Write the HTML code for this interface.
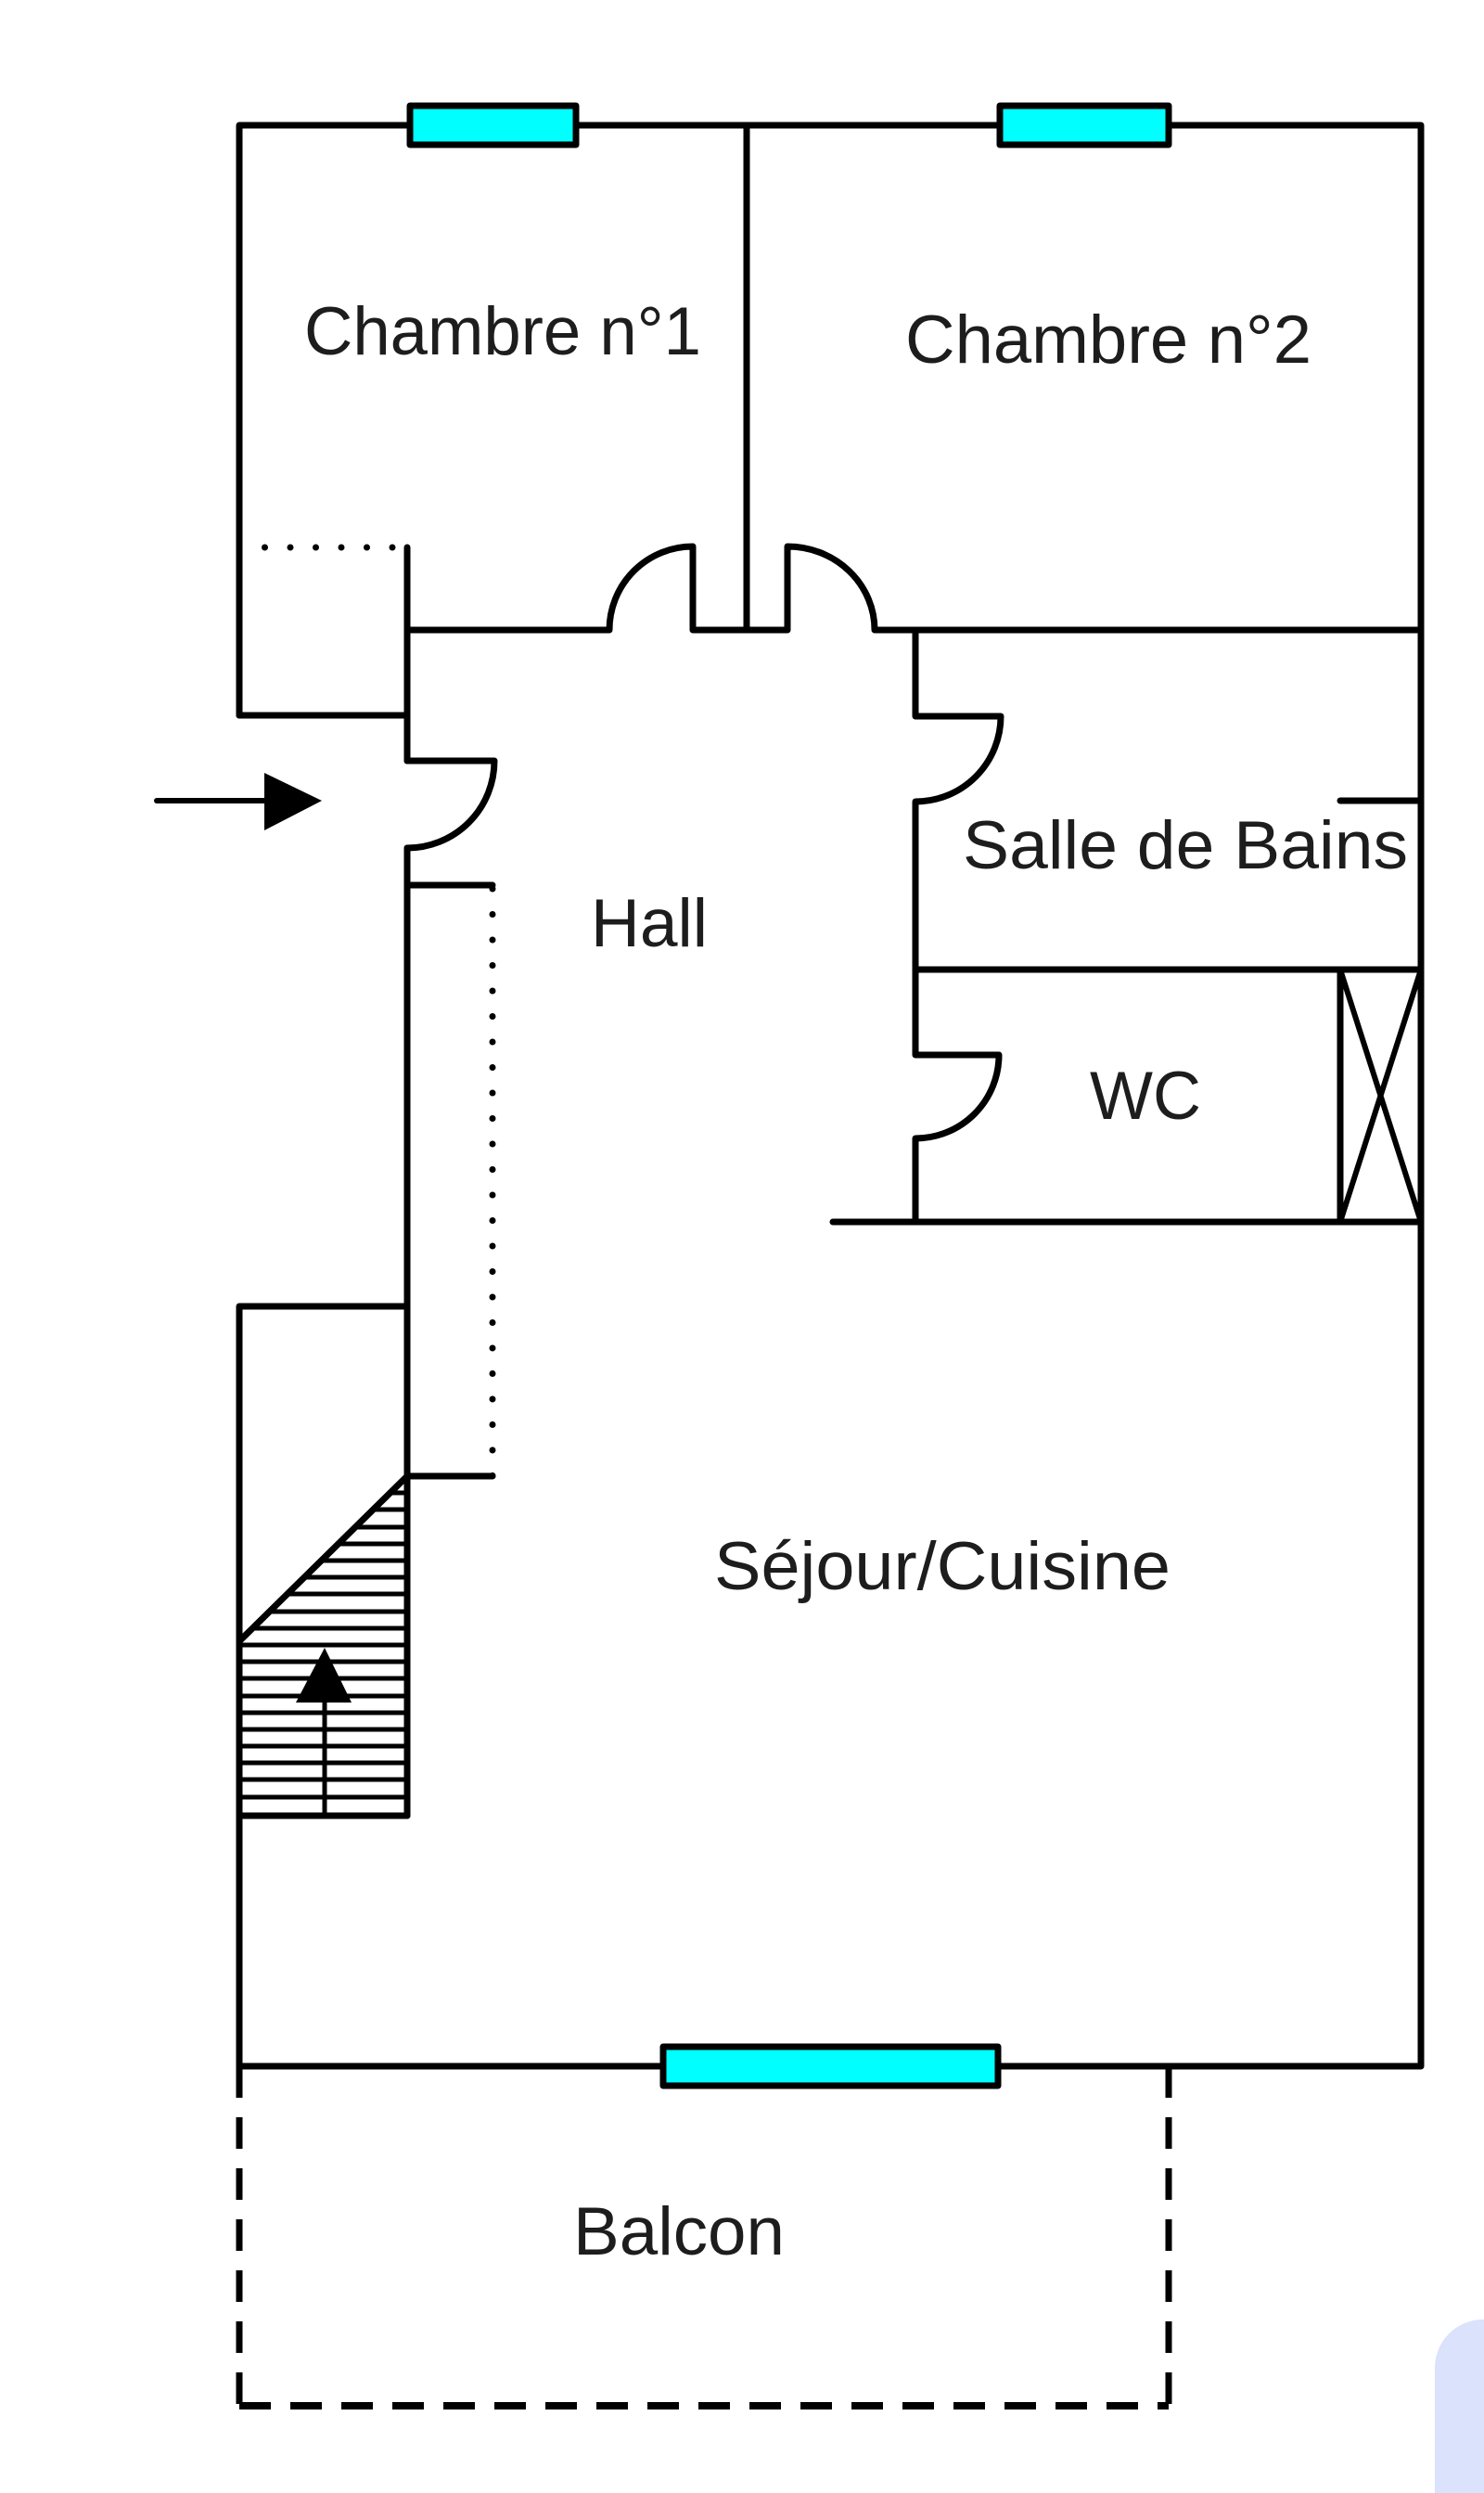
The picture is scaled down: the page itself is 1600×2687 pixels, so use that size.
<!DOCTYPE html>
<html>
<head>
<meta charset="utf-8">
<style>
  html, body { margin:0; padding:0; background:#fff; }
  body { width:1600px; height:2687px; overflow:hidden; position:relative; }
  svg { position:absolute; left:0; top:0; }
  text { font-family: "Liberation Sans", Arial, sans-serif; font-size:73px; fill:#1d1d1d; }
</style>
</head>
<body>
<svg width="1600" height="2687" viewBox="0 0 1600 2687" xmlns="http://www.w3.org/2000/svg">
  <!-- lavender blob bottom-right -->
  <rect x="1547" y="2500" width="140" height="260" rx="52" ry="52" fill="#dae2fc"/>

  <g fill="none" stroke="#000" stroke-width="7" stroke-linejoin="round" stroke-linecap="round">
    <!-- outer walls -->
    <path d="M258,771 V135 H1532 V2227 H258 V1408 H439"/>
    <path d="M258,771 H439"/>
    <!-- hall left wall -->
    <path d="M439,590 V820"/>
    <path d="M439,914 V1957"/>
    <path d="M258,1957 H439"/>
    <!-- hall top wall with two doors -->
    <path d="M439,679 H657 A90,90 0 0 1 747,589 V679 H849 V589 A94,90 0 0 1 943,679 H1532"/>
    <!-- middle wall between bedrooms -->
    <path d="M805,135 V679"/>
    <!-- bathroom / WC left wall with doors -->
    <path d="M987,679 V772 H1079 A92,92 0 0 1 987,864 V1137 H1077 A90,90 0 0 1 987,1227 V1317"/>
    <path d="M987,1045 H1532"/>
    <path d="M1445,863 H1532"/>
    <path d="M898,1317 H1532"/>
    <path d="M1445,1045 V1317"/>
    <path d="M1445,1045 L1532,1317 M1532,1045 L1445,1317" stroke-width="6"/>
    <!-- entrance door -->
    <path d="M439,820 H533 A94,94 0 0 1 439,914"/>
    <!-- cupboard along hall -->
    <path d="M439,954 H531"/>
    <path d="M439,1591 H531"/>
    <!-- stairs diagonal -->
    <path d="M439,1591 L259,1768"/>
  </g>

  <!-- dotted lines -->
  <g fill="none" stroke="#000" stroke-width="7" stroke-linecap="round" stroke-dasharray="0 27.5">
    <path d="M258,590 H439"/>
    <path d="M531,958 V1591"/>
  </g>

  <!-- stair hatching -->
  <g stroke="#000" stroke-width="5">
    <line x1="421" y1="1609" x2="439" y2="1609"/>
    <line x1="402" y1="1627" x2="439" y2="1627"/>
    <line x1="384" y1="1646" x2="439" y2="1646"/>
    <line x1="365" y1="1664" x2="439" y2="1664"/>
    <line x1="347" y1="1682" x2="439" y2="1682"/>
    <line x1="328" y1="1700" x2="439" y2="1700"/>
    <line x1="310" y1="1718" x2="439" y2="1718"/>
    <line x1="291" y1="1737" x2="439" y2="1737"/>
    <line x1="273" y1="1755" x2="439" y2="1755"/>
    <line x1="258" y1="1773" x2="439" y2="1773"/>
    <line x1="258" y1="1791" x2="439" y2="1791"/>
    <line x1="258" y1="1809" x2="439" y2="1809"/>
    <line x1="258" y1="1828" x2="439" y2="1828"/>
    <line x1="258" y1="1846" x2="439" y2="1846"/>
    <line x1="258" y1="1864" x2="439" y2="1864"/>
    <line x1="258" y1="1882" x2="439" y2="1882"/>
    <line x1="258" y1="1900" x2="439" y2="1900"/>
    <line x1="258" y1="1918" x2="439" y2="1918"/>
    <line x1="258" y1="1937" x2="439" y2="1937"/>
    <!-- stair arrow shaft -->
    <line x1="350" y1="1830" x2="350" y2="1957"/>
  </g>
  <polygon points="319,1835 379,1835 350,1776" fill="#000"/>

  <!-- entrance arrow -->
  <line x1="169" y1="863" x2="292" y2="863" stroke="#000" stroke-width="6" stroke-linecap="round"/>
  <polygon points="285,833 347,863 285,895" fill="#000"/>

  <!-- windows -->
  <g fill="#00ffff" stroke="#000" stroke-width="7" stroke-linejoin="round">
    <rect x="442" y="114" width="179" height="42"/>
    <rect x="1078" y="114" width="182" height="42"/>
    <rect x="715" y="2206" width="361" height="42"/>
  </g>

  <!-- balcony dashed -->
  <path d="M258,2227 V2593" fill="none" stroke="#000" stroke-width="7" stroke-dasharray="34 21"/>
  <path d="M1260,2227 V2593" fill="none" stroke="#000" stroke-width="7" stroke-dasharray="34 21"/>
  <path d="M258,2593 H1260" fill="none" stroke="#000" stroke-width="8" stroke-dasharray="34 21"/>

  <!-- labels -->
  <text x="542" y="382" text-anchor="middle" textLength="428" lengthAdjust="spacingAndGlyphs">Chambre n°1</text>
  <text x="1195" y="391" text-anchor="middle" textLength="438" lengthAdjust="spacingAndGlyphs">Chambre n°2</text>
  <text x="700" y="1020" text-anchor="middle" textLength="126" lengthAdjust="spacingAndGlyphs">Hall</text>
  <text x="1278" y="936" text-anchor="middle" textLength="480" lengthAdjust="spacingAndGlyphs">Salle de Bains</text>
  <text x="1235" y="1206" text-anchor="middle" textLength="120" lengthAdjust="spacingAndGlyphs">WC</text>
  <text x="1016" y="1713" text-anchor="middle" textLength="492" lengthAdjust="spacingAndGlyphs">Séjour/Cuisine</text>
  <text x="732" y="2430" text-anchor="middle" textLength="228" lengthAdjust="spacingAndGlyphs">Balcon</text>
</svg>
</body>
</html>
